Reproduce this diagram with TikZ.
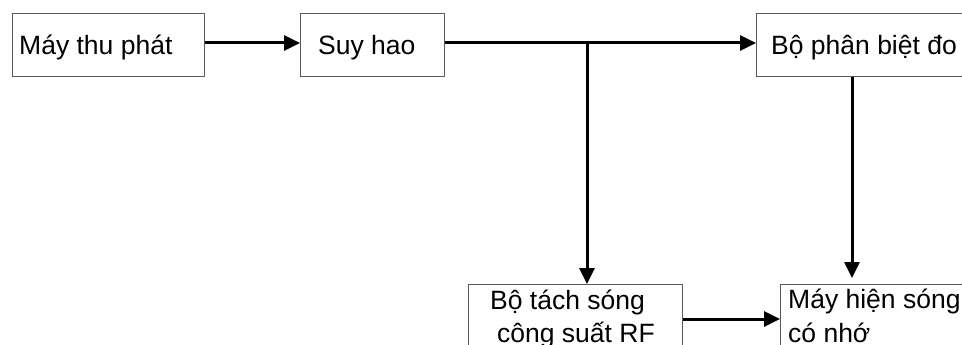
\documentclass[tikz,border=0pt]{standalone}
\usepackage{fontspec}
\setmainfont{Liberation Sans}
\usetikzlibrary{arrows.meta}
\begin{document}
\begin{tikzpicture}[x=1pt,y=-1pt,
  box/.style={draw=black!65,line width=0.9pt,rectangle,inner sep=0pt,anchor=north west},
  lbl/.style={anchor=base west,inner sep=0pt,font=\fontsize{26.5}{32}\selectfont},
  link/.style={line width=3pt,-{Triangle[length=16pt,width=15pt]}},
  wire/.style={line width=3pt}]
\useasboundingbox (0,0) rectangle (962,345);
\clip (0,0) rectangle (962,345);
% blocks
\node[box,minimum width=192pt,minimum height=63pt] (tx) at (12,13) {};
\node[box,minimum width=144pt,minimum height=63pt] (att) at (300,13) {};
\node[box,minimum width=220pt,minimum height=63pt] (disc) at (756,13) {};
\node[box,minimum width=214pt,minimum height=80pt] (det) at (468,284) {};
\node[box,minimum width=195pt,minimum height=80pt] (scope) at (780,284) {};
% texts
\node[lbl] at (19,55) {Máy thu phát};
\node[lbl] at (318,55) {Suy hao};
\node[lbl] at (771,55) {Bộ phân biệt đo};
\node[lbl] at (490,309) {Bộ tách sóng};
\node[lbl] at (497,342) {công suất RF};
\node[lbl] at (788,308) {Máy hiện sóng};
\node[lbl] at (788,342) {có nhớ};
% connectors
\coordinate (split) at (587,43);
\coordinate (stop) at (852,278);
\draw[link] (tx.east |- 0,43) -- (att.west |- 0,43);
\draw[link] (att.east |- 0,43) -- (disc.west |- 0,43);
\draw[link] (split) -- (det.north -| split);
\draw[link] (disc.south -| stop) -- (stop);
\draw[link] (det.east |- 0,319) -- (scope.west |- 0,319);
\end{tikzpicture}
\end{document}
